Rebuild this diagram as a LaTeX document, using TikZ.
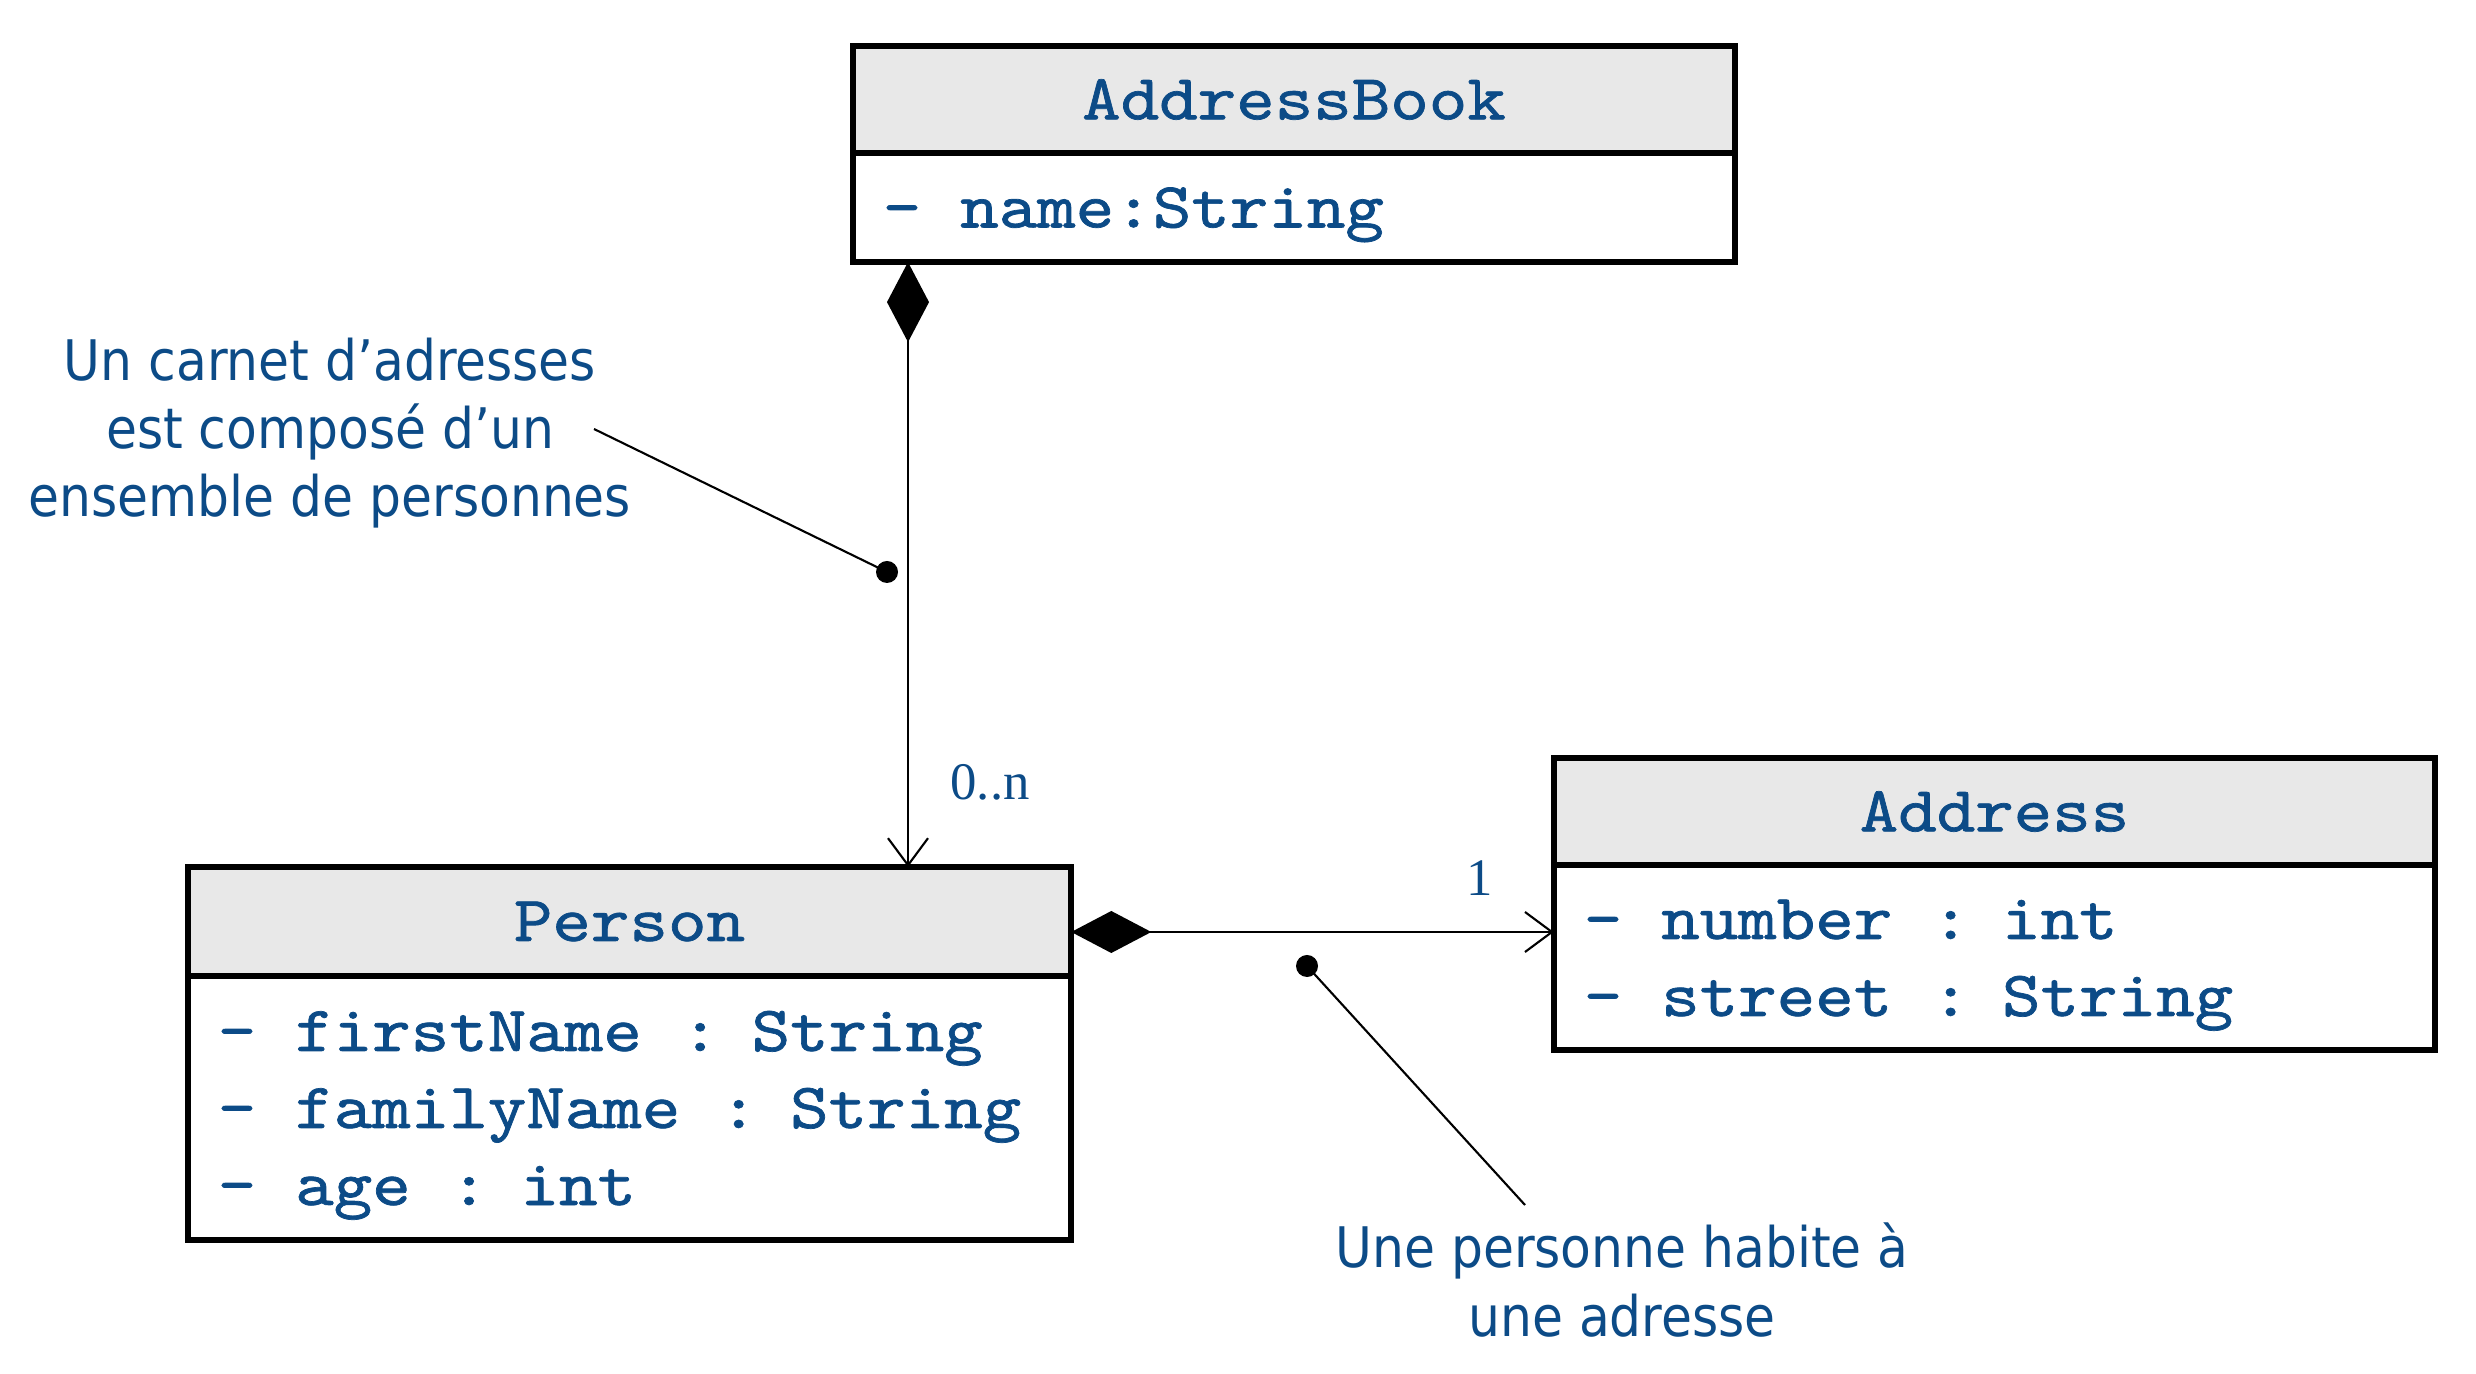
\documentclass[tikz,border=0pt]{standalone}
\usepackage{fontspec}
\usepackage{xcolor}
\usepackage{tikz}
\usetikzlibrary{positioning,calc,arrows.meta}
\newfontfamily\umlmono{lmmono10-regular.otf}[FakeBold=1.1,FakeStretch=1.14]
\newfontfamily\notefont{DejaVu Sans Condensed}
\newfontfamily\multfont{Liberation Serif}
\definecolor{umlblue}{RGB}{12,75,135}
\definecolor{headgray}{RGB}{232,232,232}
\newcommand\umlgap{\spaceskip=0.39cm\relax\rule{0pt}{15.5pt}}

\tikzset{
  classhead/.style={draw, line width=1.6pt, fill=headgray, outer sep=0pt, inner sep=0pt,
    text=umlblue, font=\umlmono\fontsize{18.3}{22}\selectfont},
  classbody/.style={draw, line width=1.6pt, fill=white, outer sep=0pt, inner xsep=0.3cm,
    inner ysep=0pt, text=umlblue, align=left,
    font=\umlmono\fontsize{18.3}{21.9}\selectfont, execute at begin node=\umlgap},
  note/.style={text=umlblue, align=center, font=\notefont\fontsize{15.9}{19.4}\selectfont},
  mult/.style={text=umlblue, font=\multfont\fontsize{15}{18}\selectfont},
  comp/.style={line width=0.6pt,
    {Diamond[length=0.8cm,width=0.42cm]}-{Straight Barb[length=0.27cm,width=0.4cm]}},
  notelink/.style={line width=0.6pt},
  dot/.style={circle, fill, inner sep=0pt, minimum size=0.22cm},
}

\begin{document}
\begin{tikzpicture}[x=0.01cm,y=-0.01cm]
\useasboundingbox (0,0) rectangle (2476,1374);

% classes
\node[classhead, minimum width=8.82cm, minimum height=1.07cm] (ABhead) at (1294,99.5) {AddressBook};
\node[classbody, text width=8.22cm, minimum height=1.09cm, below=0cm of ABhead] (ABbody) {- name:String};

\node[classhead, minimum width=8.83cm, minimum height=1.09cm] (Phead) at (629.5,921.5) {Person};
\node[classbody, text width=8.23cm, minimum height=2.64cm, below=0cm of Phead] (Pbody)
  {- firstName : String\\- familyName : String\\- age : int};

\node[classhead, minimum width=8.81cm, minimum height=1.07cm] (Ahead) at (1994.5,811.5) {Address};
\node[classbody, text width=8.21cm, minimum height=1.85cm, below=0cm of Ahead] (Abody)
  {- number : int\\- street : String};

% associations
\coordinate (vline) at (908,0);
\coordinate (hline) at (0,932);
\draw[comp] (ABbody.south -| vline) -- (Phead.north -| vline);
\draw[comp] (Phead.east |- hline) -- (Abody.west |- hline);
\node[mult] (many) at (990,782) {0..n};
\node[mult] (one) at (1480,878) {1};

% notes
\node[note] (note1) at (330,433) {Un carnet d’adresses\\est composé d’un\\ensemble de personnes};
\coordinate (n1end) at (594,429);
\node[dot] (dot1) at (887,572) {};
\draw[notelink] (n1end) -- (dot1.center);

\node[note] (note2) at (1622,1280) {Une personne habite à\\une adresse};
\coordinate (n2end) at (1525,1205);
\node[dot] (dot2) at (1307,966) {};
\draw[notelink] (n2end) -- (dot2.center);
\end{tikzpicture}
\end{document}
